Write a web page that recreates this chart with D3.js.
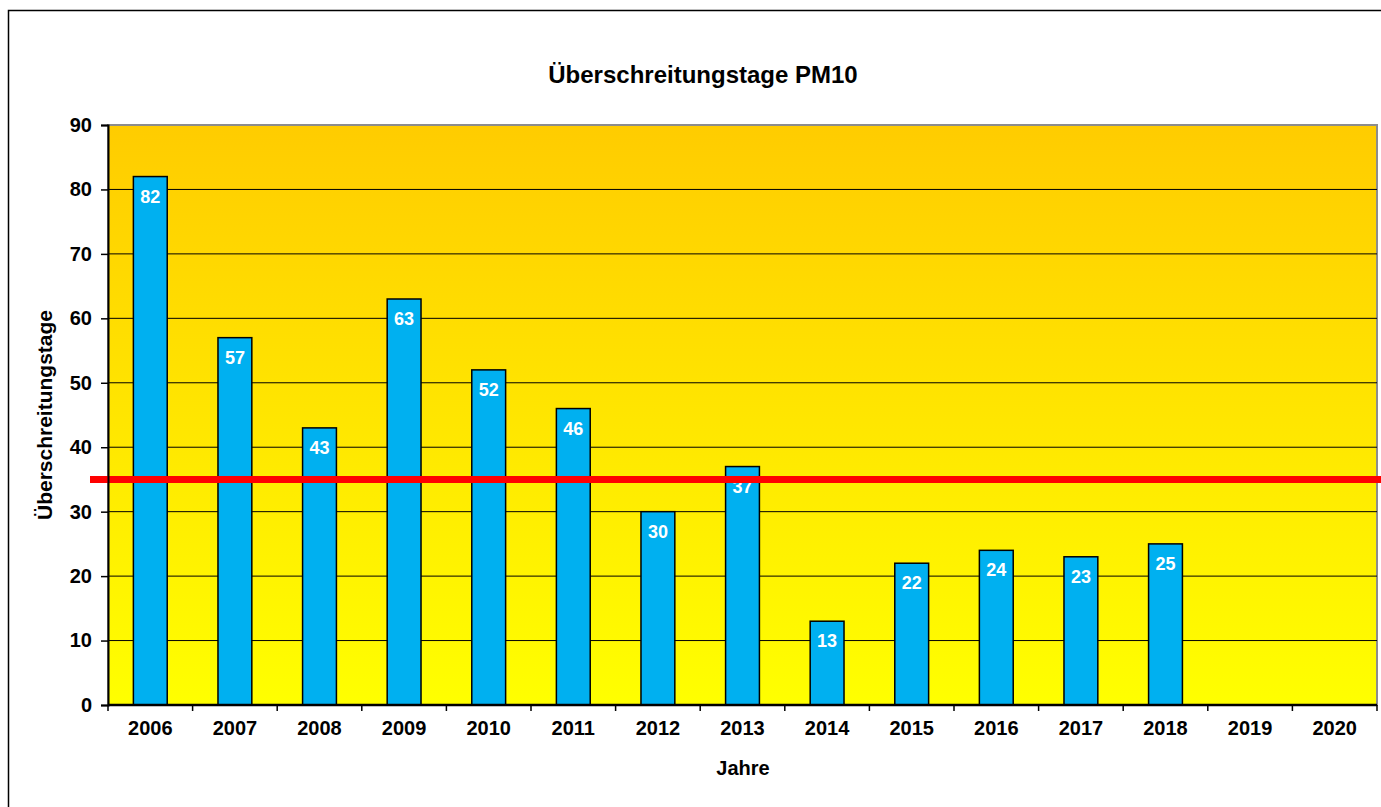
<!DOCTYPE html>
<html>
<head>
<meta charset="utf-8">
<script src="https://cdn.jsdelivr.net/npm/d3@7"></script>
<style>
  body { margin: 0; background: #fff; }
  text { font-family: "Liberation Sans", Arial, sans-serif; font-weight: bold; fill: #000; }
</style>
</head>
<body>
<svg id="chart"></svg>
<script>
const years = ['2006', '2007', '2008', '2009', '2010', '2011', '2012', '2013',
    '2014', '2015', '2016', '2017', '2018', '2019', '2020'];
const days = [82, 57, 43, 63, 52, 46, 30, 37, 13, 22, 24, 23, 25, null, null];
const yTicks = [0, 10, 20, 30, 40, 50, 60, 70, 80, 90];
const limit = 35;

const width = 1381, height = 807;
const plotLeft = 108, plotRight = 1377, plotTop = 125, plotBottom = 705;

const svg = d3.select('#chart').attr('width', width).attr('height', height);

// outer frame
svg.append('rect')
    .attr('x', 8.5).attr('y', 10.5)
    .attr('width', width + 10).attr('height', height + 10)
    .attr('fill', '#fff').attr('stroke', '#000').attr('stroke-width', 1.5);

const defs = svg.append('defs');
const grad = defs.append('linearGradient').attr('id', 'bg')
    .attr('x1', 0).attr('y1', 0).attr('x2', 0).attr('y2', 1);
grad.append('stop').attr('offset', '0%').attr('stop-color', '#FFCC00');
grad.append('stop').attr('offset', '100%').attr('stop-color', '#FFFF00');

const x = d3.scaleBand().domain(years).range([plotLeft, plotRight]).paddingInner(0).paddingOuter(0);
const y = d3.scaleLinear().domain([0, 90]).range([plotBottom, plotTop]);

// plot area
svg.append('rect')
    .attr('x', plotLeft).attr('y', plotTop)
    .attr('width', plotRight - plotLeft).attr('height', plotBottom - plotTop)
    .attr('fill', 'url(#bg)').attr('stroke', '#8c8c8c').attr('stroke-width', 2);

// gridlines
svg.append('g').selectAll('line')
    .data(yTicks.filter(d => d > 0 && d < 90))
    .enter().append('line')
    .attr('x1', plotLeft).attr('x2', plotRight)
    .attr('y1', d => y(d)).attr('y2', d => y(d))
    .attr('stroke', '#000').attr('stroke-width', 1);

// bars
const bw = x.bandwidth() * 0.4;
const bars = years.map((yr, i) => ({yr: yr, v: days[i]})).filter(d => d.v !== null);

svg.append('g').selectAll('rect')
    .data(bars)
    .enter().append('rect')
    .attr('x', d => x(d.yr) + (x.bandwidth() - bw) / 2)
    .attr('y', d => y(d.v))
    .attr('width', bw)
    .attr('height', d => y(0) - y(d.v))
    .attr('fill', '#00B0F0')
    .attr('stroke', '#000').attr('stroke-width', 1.5);

// value labels
svg.append('g').selectAll('text')
    .data(bars)
    .enter().append('text')
    .attr('x', d => x(d.yr) + x.bandwidth() / 2)
    .attr('y', d => y(d.v) + 26)
    .attr('text-anchor', 'middle')
    .attr('font-size', 18)
    .style('fill', '#fff')
    .text(d => d.v);

// limit line
svg.append('line')
    .attr('x1', 90).attr('x2', width)
    .attr('y1', y(limit)).attr('y2', y(limit))
    .attr('stroke', '#FF0000').attr('stroke-width', 7);

// y axis
const yAxis = svg.append('g')
    .attr('transform', `translate(${plotLeft},0)`)
    .call(d3.axisLeft(y).tickValues(yTicks).tickSize(7).tickPadding(9));
yAxis.select('.domain').attr('stroke', '#000').attr('stroke-width', 2);
yAxis.selectAll('.tick line').attr('stroke', '#000').attr('stroke-width', 1.5);
yAxis.selectAll('.tick text')
    .attr('font-size', 20).attr('font-family', '"Liberation Sans", Arial, sans-serif')
    .attr('font-weight', 'bold').attr('fill', '#000');

// x axis with ticks at category boundaries
const xAxis = svg.append('g').attr('transform', `translate(0,${plotBottom})`);
xAxis.append('line')
    .attr('x1', plotLeft).attr('x2', plotRight)
    .attr('stroke', '#000').attr('stroke-width', 2.5);
xAxis.selectAll('.bt')
    .data(years.concat(['end']))
    .enter().append('line')
    .attr('x1', (d, i) => plotLeft + i * x.step())
    .attr('x2', (d, i) => plotLeft + i * x.step())
    .attr('y1', 0).attr('y2', 6)
    .attr('stroke', '#000').attr('stroke-width', 1.5);
xAxis.selectAll('text')
    .data(years)
    .enter().append('text')
    .attr('x', d => x(d) + x.bandwidth() / 2)
    .attr('y', 30)
    .attr('text-anchor', 'middle')
    .attr('font-size', 20)
    .text(d => d);

// titles
svg.append('text')
    .attr('x', 703).attr('y', 83)
    .attr('text-anchor', 'middle')
    .attr('font-size', 24)
    .text('Überschreitungstage PM10');

svg.append('text')
    .attr('x', 743).attr('y', 775)
    .attr('text-anchor', 'middle')
    .attr('font-size', 20)
    .text('Jahre');

svg.append('text')
    .attr('transform', 'translate(52,415) rotate(-90)')
    .attr('text-anchor', 'middle')
    .attr('font-size', 21)
    .text('Überschreitungstage');
</script>
</body>
</html>
